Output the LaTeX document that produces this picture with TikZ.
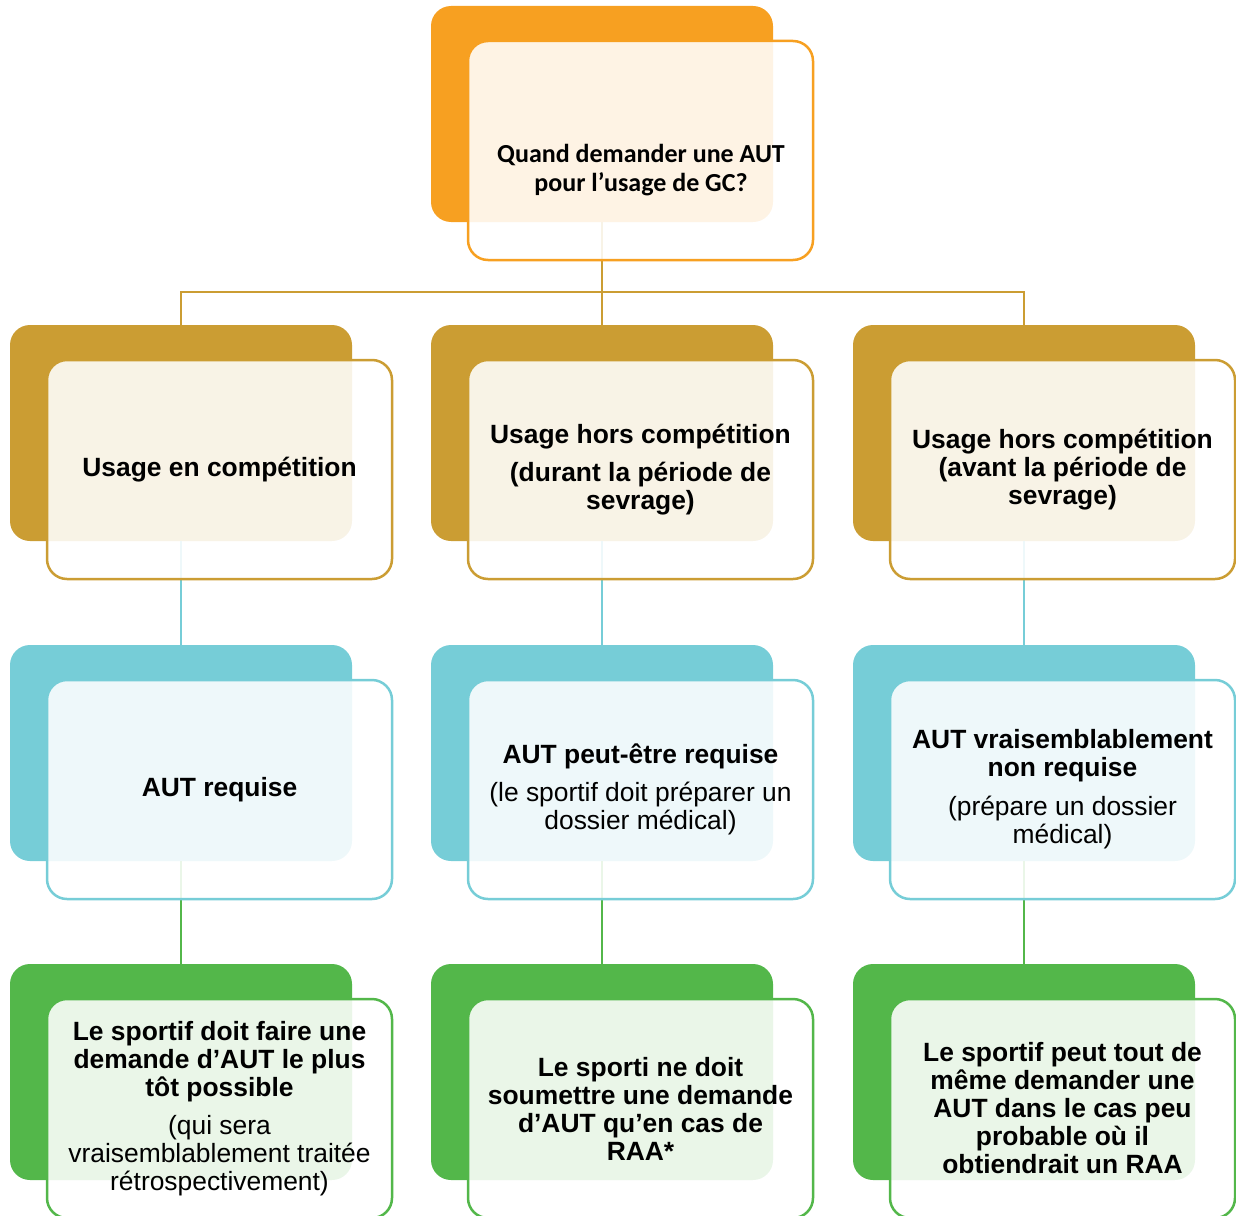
\documentclass[tikz,border=0pt]{standalone}
\usepackage{fontspec}
\setmainfont{Liberation Sans}
\newfontfamily\calibri{Carlito}
\usetikzlibrary{positioning,calc}

\definecolor{aorange}{HTML}{F7A021}
\definecolor{agold}{HTML}{CB9D33}
\definecolor{acyan}{HTML}{76CDD7}
\definecolor{agreen}{HTML}{53B74A}

\begin{document}
\begin{tikzpicture}[x=1pt, y=-1pt,
  back/.style={fill=#1, rounded corners=20pt, minimum width=342pt, minimum height=216pt, anchor=north west, inner sep=0pt, outer sep=0pt},
  front/.style={draw=#1, line width=2.5pt, fill=white, fill opacity=0.88, text opacity=1, rounded corners=20pt, minimum width=345pt, minimum height=219pt, anchor=north west, align=center, inner sep=0pt, outer sep=0pt, font=\fontsize{26.4}{28}\selectfont},
  link/.style={draw=#1, line width=2.5pt}]
\useasboundingbox (0,0) rectangle (1236,1215);

% back boxes
\node[back=aorange] (qback) at (431,6) {};
\node[back=agold] (u1back) at (10,325) {};
\node[back=agold] (u2back) at (431,325) {};
\node[back=agold] (u3back) at (853,325) {};
\node[back=acyan] (a1back) at (10,645) {};
\node[back=acyan] (a2back) at (431,645) {};
\node[back=acyan] (a3back) at (853,645) {};
\node[back=agreen] (l1back) at (10,964) {};
\node[back=agreen] (l2back) at (431,964) {};
\node[back=agreen] (l3back) at (853,964) {};

% connectors
\coordinate (split) at (602,292);
\draw[link=agold] (qback.south) -- (split);
\draw[link=agold] (split) -| (u1back.north);
\draw[link=agold] (split) -- (u2back.north);
\draw[link=agold] (split) -| (u3back.north);
\draw[link=acyan] (u1back.south) -- (a1back.north);
\draw[link=acyan] (u2back.south) -- (a2back.north);
\draw[link=acyan] (u3back.south) -- (a3back.north);
\draw[link=agreen] (a1back.south) -- (l1back.north);
\draw[link=agreen] (a2back.south) -- (l2back.north);
\draw[link=agreen] (a3back.south) -- (l3back.north);

% front boxes
\node[front=aorange] (qfront) at (468,41) {};
\node[font=\calibri\bfseries\fontsize{26}{29}\selectfont, align=center] (qtext) at (641,170) {Quand demander une AUT\\pour l’usage de GC?};

\node[front=agold] (u1front) at (47,360) {\textbf{Usage en compétition}};
\node[front=agold] (u2front) at (468,360) {\textbf{Usage hors compétition}\\[10pt]\textbf{(durant la période de}\\\textbf{sevrage)}};
\node[front=agold] (u3front) at (890,360) {\textbf{Usage hors compétition}\\\textbf{(avant la période de}\\\textbf{sevrage)}};

\node[front=acyan] (a1front) at (47,680) {\textbf{AUT requise}};
\node[front=acyan] (a2front) at (468,680) {\textbf{AUT peut-être requise}\\[10pt](le sportif doit préparer un\\dossier médical)};
\node[front=acyan] (a3front) at (890,680) {\textbf{AUT vraisemblablement}\\\textbf{non requise}\\[11pt](prépare un dossier\\médical)};

\node[front=agreen] (l1front) at (47,999) {\textbf{Le sportif doit faire une}\\\textbf{demande d’AUT le plus}\\\textbf{tôt possible}\\[10pt](qui sera\\vraisemblablement traitée\\rétrospectivement)};
\node[front=agreen] (l2front) at (468,999) {\textbf{Le sporti ne doit}\\\textbf{soumettre une demande}\\\textbf{d’AUT qu’en cas de}\\\textbf{RAA*}};
\node[front=agreen] (l3front) at (890,999) {\textbf{Le sportif peut tout de}\\\textbf{même demander une}\\\textbf{AUT dans le cas peu}\\\textbf{probable où il}\\\textbf{obtiendrait un RAA}};

\end{tikzpicture}
\end{document}
